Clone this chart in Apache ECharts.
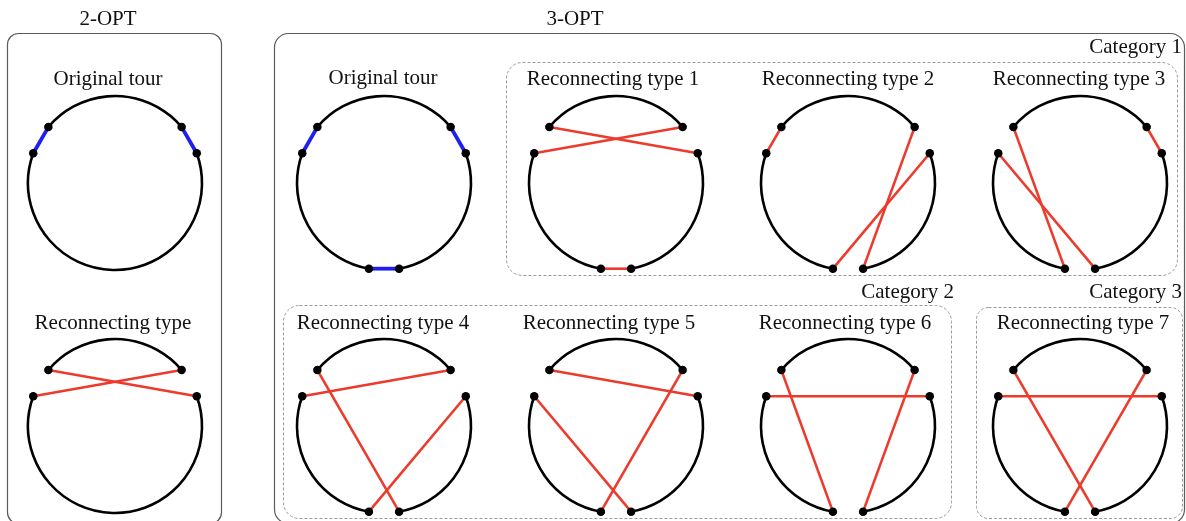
<!DOCTYPE html>
<html>
<head>
<meta charset="utf-8">
<script src="https://cdn.jsdelivr.net/npm/echarts@6/dist/echarts.min.js"></script>
<style>html,body{margin:0;padding:0;background:#fff}#c{width:1186px;height:521px}</style>
</head>
<body>
<div id="c"></div>
<script>
// node angles (degrees, counter-clockwise from +x): P1..P6
const nodeAngles = [20, 40, 140, 160, 260, 280];
const tourRadius = 87;
// panels: centre of each tour circle
const panelNames = ['Original tour', 'Reconnecting type', 'Original tour', 'Reconnecting type 1', 'Reconnecting type 2', 'Reconnecting type 3', 'Reconnecting type 4', 'Reconnecting type 5', 'Reconnecting type 6', 'Reconnecting type 7'];
const panelCx = [115, 115, 384, 616, 848, 1080, 384, 616, 848, 1080];
const panelCy = [183, 426, 183, 183, 183, 183, 426, 426, 426, 426];
// tour arcs (start/end angle, degrees ccw)
const arcs2opt = [[40, 140], [160, 380]];
const arcs3opt = [[40, 140], [160, 260], [280, 380]];
const panelNodeCount = [4, 4, 6, 6, 6, 6, 6, 6, 6, 6];
// edges as node index pairs (0 = P1 ... 5 = P6)
const panelEdges = [
  [[0, 1], [2, 3]],
  [[1, 3], [2, 0]],
  [[0, 1], [2, 3], [4, 5]],
  [[1, 3], [2, 0], [4, 5]],
  [[2, 3], [1, 5], [0, 4]],
  [[0, 1], [2, 4], [3, 5]],
  [[1, 3], [2, 5], [0, 4]],
  [[2, 0], [1, 4], [3, 5]],
  [[3, 0], [2, 4], [1, 5]],
  [[3, 0], [2, 5], [1, 4]]
];
const panelEdgeKind = ['removed', 'added', 'removed', 'added', 'added', 'added', 'added', 'added', 'added', 'added'];
const groupTitles = ['2-OPT', '3-OPT'];
const categoryTitles = ['Category 1', 'Category 2', 'Category 3'];

// ---- build series data ----
function nodePos(p, k) {
  const a = nodeAngles[k] * Math.PI / 180;
  return [panelCx[p] + tourRadius * Math.cos(a), panelCy[p] - tourRadius * Math.sin(a)];
}
const arcData = [];
const edgeData = [];
const dotData = [];
for (let p = 0; p < panelNames.length; p++) {
  const arcs = panelNodeCount[p] === 4 ? arcs2opt : arcs3opt;
  arcs.forEach(a => arcData.push([panelCx[p], panelCy[p], a[0], a[1]]));
  panelEdges[p].forEach(e => {
    const a = nodePos(p, e[0]), b = nodePos(p, e[1]);
    edgeData.push([a[0], a[1], b[0], b[1], panelEdgeKind[p] === 'removed' ? 1 : 0]);
  });
  for (let k = 0; k < panelNodeCount[p]; k++) dotData.push(nodePos(p, k));
}

const chart = echarts.init(document.getElementById('c'), null, {renderer: 'canvas'});
const FONT = '"Liberation Serif", "Times New Roman", serif';
const txt = (x, y, s, align) => ({
  type: 'text', x: x, y: y, z: 10,
  style: {text: s, font: '21px ' + FONT, fill: '#111', align: align || 'center', verticalAlign: 'middle'}
});
const box = (x, y, w, h, dashed, r) => ({
  type: 'rect', z: 0,
  shape: {x: x, y: y, width: w, height: h, r: r},
  style: dashed ? {fill: null, stroke: '#9a9a9a', lineWidth: 1, lineDash: [3, 2]}
                : {fill: null, stroke: '#5a5a5a', lineWidth: 1.2}
});

const graphics = [
  box(7.5, 33.5, 214, 490, false, 11),
  box(274.5, 33.5, 910, 490, false, 14),
  box(506.5, 62.5, 671, 213, true, 16),
  box(283.5, 305.5, 668, 213, true, 16),
  box(976.5, 307.5, 206, 211, true, 12),
  txt(108, 19, groupTitles[0]),
  txt(575, 19, groupTitles[1]),
  txt(1182, 47, categoryTitles[0], 'right'),
  txt(954, 292, categoryTitles[1], 'right'),
  txt(1182, 292, categoryTitles[2], 'right')
];
const titleY = [79, 323, 78, 79, 79, 79, 323, 323, 323, 323];
const titleX = [108, 113, 383, 613, 848, 1079, 383, 609, 845, 1083];
for (let p = 0; p < panelNames.length; p++) graphics.push(txt(titleX[p], titleY[p], panelNames[p]));

chart.setOption({
  animation: false,
  grid: {left: 0, right: 0, top: 0, bottom: 0},
  xAxis: {type: 'value', min: 0, max: 1186, show: false},
  yAxis: {type: 'value', min: 0, max: 521, inverse: true, show: false},
  graphic: graphics,
  series: [
    {
      type: 'custom', z: 2,
      data: arcData,
      renderItem: function (params, api) {
        const c = api.coord([api.value(0), api.value(1)]);
        const r = api.size([tourRadius, 0])[0];
        const a0 = api.value(2), a1 = api.value(3);
        return {
          type: 'arc',
          shape: {cx: c[0], cy: c[1], r: r, startAngle: -a1 * Math.PI / 180, endAngle: -a0 * Math.PI / 180, clockwise: true},
          style: {stroke: '#000', fill: null, lineWidth: 2.6}
        };
      }
    },
    {
      type: 'custom', z: 3,
      data: edgeData,
      renderItem: function (params, api) {
        const a = api.coord([api.value(0), api.value(1)]);
        const b = api.coord([api.value(2), api.value(3)]);
        const blue = api.value(4) === 1;
        return {
          type: 'line',
          shape: {x1: a[0], y1: a[1], x2: b[0], y2: b[1]},
          style: {stroke: blue ? '#1f1ff0' : '#ec3b2c', lineWidth: blue ? 3.8 : 2.6}
        };
      }
    },
    {
      type: 'scatter', z: 4,
      symbol: 'circle', symbolSize: 8.5,
      itemStyle: {color: '#000', opacity: 1},
      emphasis: {disabled: true},
      data: dotData
    }
  ]
});
</script>
</body>
</html>
